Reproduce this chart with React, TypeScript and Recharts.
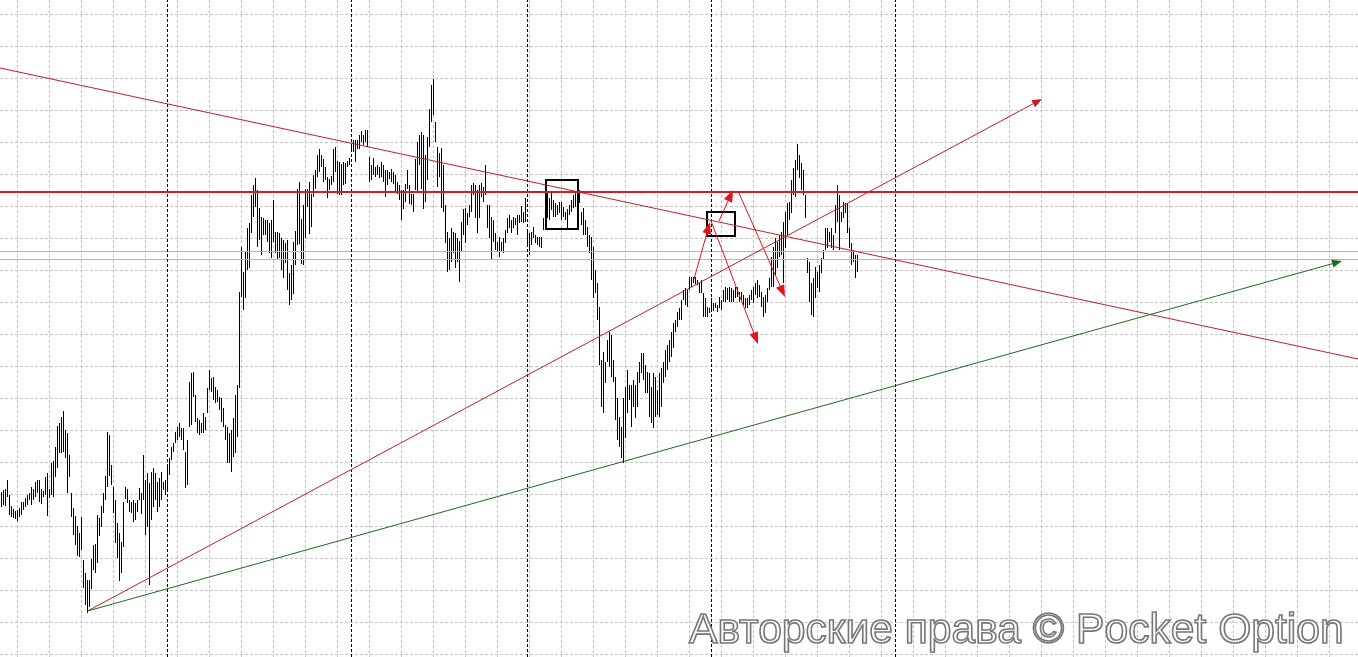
import {
  ComposedChart,
  Bar,
  XAxis,
  YAxis,
  CartesianGrid,
  ReferenceLine,
  ReferenceArea,
} from "recharts";

const W = 1358;
const H = 657;

// [high, low] for each bar, one list per trading session
const session1: [number, number][] = [
  [208, 193], [210, 195], [211, 194], [220, 203], [205, 185], [194, 183], [191, 182], [189, 181], [190, 179], [192, 183],
  [198, 185], [198, 190], [202, 193], [205, 195], [207, 200], [213, 195], [211, 200], [218, 203], [220, 207], [220, 198],
  [211, 196], [209, 203], [223, 205], [227, 184], [211, 202], [237, 205], [239, 203], [253, 223], [274, 232], [277, 247],
  [283, 247], [289, 248], [270, 242], [267, 207], [245, 223], [207, 183], [192, 165], [184, 155], [174, 144], [167, 143],
  [183, 150], [140, 112], [127, 95], [120, 87], [120, 93], [141, 111], [155, 130], [156, 127], [185, 137], [182, 164],
  [194, 173], [207, 187], [224, 200], [268, 213], [265, 224], [235, 215], [213, 187], [200, 157], [177, 142], [167, 119],
  [158, 127], [198, 153], [213, 201], [211, 197], [200, 188], [198, 187], [200, 178], [197, 180], [200, 188], [212, 200],
  [207, 186], [245, 200], [220, 165], [227, 173], [217, 115], [228, 180], [232, 193], [227, 200], [218, 188], [222, 193],
  [228, 200], [218, 210], [220, 205],
];

const session2: [number, number][] = [
  [235, 208], [242, 225], [253, 240], [257, 248], [268, 257], [273, 260], [277, 263], [272, 260], [272, 250], [248, 212],
  [260, 215], [318, 273], [327, 275], [328, 303], [305, 278], [282, 267], [280, 265], [277, 267], [287, 267], [283, 270],
  [312, 287], [330, 310], [322, 308], [323, 300], [313, 297], [310, 298], [303, 290], [302, 278], [292, 273], [275, 260],
  [273, 237], [267, 237], [270, 228], [282, 243], [305, 247], [315, 263], [408, 312], [453, 403], [428, 390], [448, 402],
  [472, 430], [477, 432], [505, 467], [515, 483], [522, 493], [510, 453], [492, 460], [483, 445], [482, 465], [480, 465],
  [480, 458], [477, 447], [480, 442], [500, 458], [468, 447], [468, 440], [467, 442], [462, 430], [460, 422], [457, 437],
  [460, 410], [427, 395], [435, 400], [458, 406], [469, 435], [511, 455], [518, 456], [481, 436], [495, 435], [511, 462],
  [511, 493], [518, 466], [506, 473], [525, 503], [530, 511], [545, 523], [551, 528], [545, 533], [541, 518], [533, 520],
  [523, 502], [521, 510], [524, 515], [551, 518], [553, 528], [539, 506], [538, 505], [536, 505], [538, 515], [537, 516],
  [539, 533], [542, 535],
];

const session3: [number, number][] = [
  [556, 548], [560, 548], [560, 538], [560, 551], [565, 551], [569, 558], [565, 555], [570, 558], [570, 553], [543, 518],
  [535, 520], [542, 525], [533, 523], [535, 525], [533, 522], [538, 523], [535, 518], [530, 503], [530, 515], [528, 521],
  [531, 518], [528, 516], [525, 508], [518, 506], [515, 500], [510, 480], [510, 491], [516, 498], [530, 511], [515, 496],
  [506, 495], [506, 488], [541, 510], [558, 508], [565, 535], [568, 511], [565, 491], [545, 498], [563, 520], [591, 553],
  [615, 578], [621, 585], [578, 558], [553, 513], [547, 523], [552, 492], [535, 488], [495, 457], [468, 428], [462, 430],
  [472, 438], [468, 447], [467, 432], [462, 438], [459, 418], [478, 448], [491, 465], [492, 457], [487, 475], [495, 483],
  [515, 488], [517, 505], [515, 482], [510, 467], [515, 482], [517, 503], [513, 498], [535, 505], [495, 472], [495, 462],
  [483, 440], [480, 458], [467, 450], [458, 448], [463, 443], [458, 448], [462, 447], [470, 457], [482, 467], [485, 472],
  [480, 467], [483, 472], [482, 475], [485, 465], [485, 477], [494, 478], [488, 477], [502, 478],
];

const session4: [number, number][] = [
  [470, 453], [467, 445], [468, 455], [473, 462], [465, 457], [463, 455], [463, 453], [463, 452], [482, 470], [518, 505],
  [508, 482], [502, 480], [508, 490], [500, 483], [497, 483], [495, 485], [498, 487], [498, 480], [493, 483], [488, 480],
  [491, 472], [495, 485], [500, 488], [505, 492], [508, 493], [505, 487], [510, 497], [488, 475], [492, 465], [480, 465],
  [473, 453], [465, 447], [463, 420], [453, 402], [430, 407], [417, 380], [393, 335], [340, 293], [348, 287], [338, 317],
  [360, 338], [368, 333], [365, 323], [340, 318], [323, 280], [302, 260], [283, 253], [273, 242], [302, 237], [313, 262],
  [330, 287], [315, 300], [315, 273], [320, 293], [315, 282], [328, 293], [338, 317], [347, 327], [347, 320], [335, 307],
  [328, 307], [327, 283], [313, 277], [327, 272], [323, 283], [310, 285], [327, 283], [332, 293], [338, 317], [350, 323],
  [355, 330], [360, 338], [368, 343], [377, 352], [380, 368], [388, 373], [392, 380], [400, 380], [410, 400], [412, 395],
  [410, 393], [423, 410], [423, 413], [423, 417], [423, 416], [420, 415], [417, 407], [420, 407], [407, 383], [402, 383],
  [393, 383], [392, 387],
];

const session5: [number, number][] = [
  [402, 388], [397, 389], [397, 392], [395, 388], [403, 392], [400, 390], [410, 398], [413, 398], [412, 400], [413, 398],
  [412, 398], [410, 398], [413, 402], [413, 403], [408, 398], [408, 400], [405, 395], [402, 392], [402, 392], [405, 395],
  [410, 400], [413, 397], [417, 405], [420, 402], [415, 403], [408, 393], [403, 383], [405, 387], [412, 398], [422, 410],
  [443, 413], [453, 413], [462, 425], [458, 432], [465, 443], [468, 445], [478, 417], [488, 452], [497, 465], [498, 480],
  [520, 487], [532, 505], [540, 503], [556, 530], [545, 522], [537, 510], [530, 505], [505, 482], [442, 427], [438, 398],
  [417, 385], [422, 383], [433, 402], [428, 412], [435, 408], [442, 427], [450, 440], [472, 450], [472, 452], [468, 458],
  [472, 452], [465, 450], [495, 467], [515, 478], [505, 450], [488, 478], [498, 482], [497, 487], [497, 467], [472, 452],
  [457, 435], [450, 438], [445, 422], [445, 428],
];

// bar index where each session begins (last one is the next, still empty session)
const sessionStarts = [83, 175, 263, 355, 447];

// horizontal levels
const resistance = 508;
const quoteLines = [448.5, 440.5];

// trend lines: [barIndex, price] endpoints
const fallingTrend: [number, number][] = [[-0.75, 632], [678.25, 341]];
const risingTrend: [number, number][] = [[43, 89], [520.25, 601]];
const supportTrend: [number, number][] = [[43, 89], [670.25, 439]];

// short projection arrows around the breakout
const projections: [number, number][][] = [
  [[346.25, 421], [354.25, 478]],
  [[354.75, 479], [378.25, 356]],
  [[358.75, 479], [365.75, 510]],
  [[368.25, 509], [391.75, 403]],
];

// rectangles marking the consolidation zones: [x1, x2, y1, y2]
const zones: [number, number, number, number][] = [
  [272.25, 288.25, 471, 520],
  [352.75, 366.75, 464, 488],
];

const bars = [...session1, ...session2, ...session3, ...session4, ...session5].map(
  ([high, low], i) => ({ i, high, low, range: [low, high] })
);

const RED = "#c41e24";
const ARROW_RED = "#e3141a";
const GREEN = "#1d6a1d";
const GRID = "#c4c4c4";

const gridRows = Array.from({ length: 21 }, (_, k) => 14.5 + 32 * k);
const gridCols = Array.from({ length: 43 }, (_, k) => 17.5 + 32 * k);

// high-low stick snapped to whole pixels so it stays crisp
const HighLowBar = (p: any) => {
  const cx = p.x + p.width / 2;
  return (
    <rect
      x={Math.floor(cx)}
      y={Math.round(p.y)}
      width={1}
      height={Math.max(1, Math.round(p.height))}
      fill="#000"
    />
  );
};

const arrowShape =
  (color: string, withHead: boolean, head = 11, half = 4) =>
  (p: any) => {
    const { x1, y1, x2, y2 } = p;
    const a = Math.atan2(y2 - y1, x2 - x1);
    const c = Math.cos(a);
    const s = Math.sin(a);
    const bx = withHead ? x2 - head * c : x2;
    const by = withHead ? y2 - head * s : y2;
    return (
      <g>
        <line x1={x1} y1={y1} x2={bx} y2={by} stroke={color} strokeWidth={1} />
        {withHead && (
          <polygon
            points={`${x2},${y2} ${bx - half * s},${by + half * c} ${bx + half * s},${by - half * c}`}
            fill={color}
          />
        )}
      </g>
    );
  };

const toSegment = (pts: [number, number][]) => pts.map(([x, y]) => ({ x, y }));

export default function App() {
  return (
    <div style={{ position: "absolute", left: 0, top: 0, width: W, height: H, background: "#fff" }}>
      <ComposedChart width={W} height={H} data={bars} margin={{ top: 0, right: 0, bottom: 0, left: 0 }}>
        <XAxis dataKey="i" type="number" domain={[-0.75, 678.25]} allowDataOverflow hide />
        <YAxis type="number" domain={[43, 700]} allowDataOverflow hide />
        <CartesianGrid
          stroke={GRID}
          strokeDasharray="3 2"
          horizontalPoints={gridRows}
          verticalPoints={gridCols}
        />
        {quoteLines.map((y) => (
          <ReferenceLine key={y} y={y} stroke="#b6b6b6" strokeWidth={1} />
        ))}
        {sessionStarts.map((x) => (
          <ReferenceLine key={x} x={x} stroke="#000" strokeDasharray="3 2" ifOverflow="visible" />
        ))}
        <Bar dataKey="range" barSize={1} fill="#000" shape={HighLowBar} isAnimationActive={false} />
        <ReferenceLine y={resistance} stroke="#d01f24" strokeWidth={2} />
        <ReferenceLine
          segment={toSegment(fallingTrend)}
          ifOverflow="visible"
          shape={arrowShape(RED, false)}
        />
        <ReferenceLine
          segment={toSegment(risingTrend)}
          ifOverflow="visible"
          shape={arrowShape(RED, true, 10, 4)}
        />
        <ReferenceLine
          segment={toSegment(supportTrend)}
          ifOverflow="visible"
          shape={arrowShape(GREEN, true, 10, 4)}
        />
        {projections.map((seg, k) => (
          <ReferenceLine
            key={k}
            segment={toSegment(seg)}
            ifOverflow="visible"
            shape={arrowShape(ARROW_RED, true, 12, 4.5)}
          />
        ))}
        {zones.map(([x1, x2, y1, y2], k) => (
          <ReferenceArea
            key={k}
            x1={x1}
            x2={x2}
            y1={y1}
            y2={y2}
            fill="none"
            fillOpacity={0}
            stroke="#000"
            strokeWidth={2}
            ifOverflow="visible"
          />
        ))}
      </ComposedChart>
      <div
        style={{
          position: "absolute",
          left: 689,
          top: 607,
          fontFamily: "'Liberation Sans', Arial, sans-serif",
          fontSize: 42.6,
          lineHeight: 1,
          whiteSpace: "nowrap",
          color: "#fbfbfb",
          WebkitTextStroke: "1.6px #767676",
          filter: "blur(0.5px)",
        }}
      >
        Авторские права © Pocket Option
      </div>
    </div>
  );
}
